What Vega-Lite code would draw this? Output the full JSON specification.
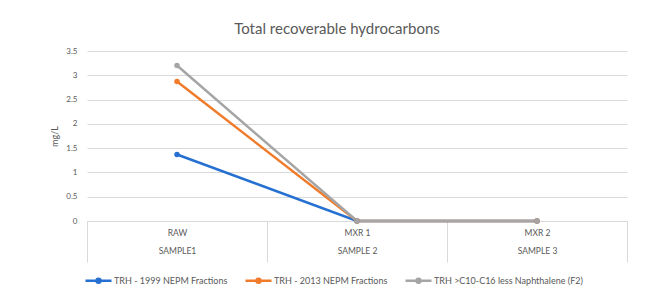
{
  "$schema": "https://vega.github.io/schema/vega-lite/v6.json",
  "autosize": {"type": "none"},
  "width": 540,
  "height": 170,
  "padding": {"left": 87, "top": 51, "right": 28, "bottom": 65},
  "background": "white",
  "title": {
    "text": "Total recoverable hydrocarbons",
    "font": "Lato",
    "fontSize": 15,
    "fontWeight": "normal",
    "color": "#595959",
    "anchor": "middle",
    "dx": -20,
    "offset": 10
  },
  "data": {
    "values": [
      {"cat": "RAW|SAMPLE1", "series": "TRH - 1999 NEPM Fractions", "value": 1.37},
      {"cat": "MXR 1|SAMPLE 2", "series": "TRH - 1999 NEPM Fractions", "value": 0},
      {"cat": "MXR 2|SAMPLE 3", "series": "TRH - 1999 NEPM Fractions", "value": 0},
      {"cat": "RAW|SAMPLE1", "series": "TRH - 2013 NEPM Fractions", "value": 2.87},
      {"cat": "MXR 1|SAMPLE 2", "series": "TRH - 2013 NEPM Fractions", "value": 0},
      {"cat": "MXR 2|SAMPLE 3", "series": "TRH - 2013 NEPM Fractions", "value": 0},
      {"cat": "RAW|SAMPLE1", "series": "TRH >C10-C16 less Naphthalene (F2)", "value": 3.2},
      {"cat": "MXR 1|SAMPLE 2", "series": "TRH >C10-C16 less Naphthalene (F2)", "value": 0},
      {"cat": "MXR 2|SAMPLE 3", "series": "TRH >C10-C16 less Naphthalene (F2)", "value": 0}
    ]
  },
  "mark": {"type": "line", "strokeWidth": 2.5, "point": {"filled": true, "size": 30}},
  "encoding": {
    "x": {
      "field": "cat",
      "type": "nominal",
      "sort": ["RAW|SAMPLE1", "MXR 1|SAMPLE 2", "MXR 2|SAMPLE 3"],
      "scale": {"type": "band", "paddingInner": 0, "paddingOuter": 0},
      "axis": {
        "title": null,
        "labelAngle": 0,
        "labelExpr": "isValid(datum.value) ? split(datum.value, '|') : ''",
        "labelFont": "Lato",
        "labelFontSize": 8.5,
        "labelColor": "#595959",
        "labelLineHeight": 18,
        "labelPadding": -34,
        "tickBand": "extent",
        "tickSize": 41,
        "tickColor": "#d9d9d9",
        "domainColor": "#d9d9d9",
        "grid": false
      }
    },
    "y": {
      "field": "value",
      "type": "quantitative",
      "scale": {"domain": [0, 3.5]},
      "axis": {
        "title": "mg/L",
        "titleFont": "Lato",
        "titleFontSize": 9,
        "titleFontWeight": "normal",
        "titleColor": "#595959",
        "titlePadding": 6,
        "values": [0, 0.5, 1, 1.5, 2, 2.5, 3, 3.5],
        "format": "~g",
        "labelFont": "Lato",
        "labelFontSize": 8,
        "labelColor": "#595959",
        "labelPadding": 10,
        "domain": false,
        "ticks": false,
        "gridColor": "#d9d9d9"
      }
    },
    "color": {
      "field": "series",
      "type": "nominal",
      "scale": {
        "domain": ["TRH - 1999 NEPM Fractions", "TRH - 2013 NEPM Fractions", "TRH >C10-C16 less Naphthalene (F2)"],
        "range": ["#2570D0", "#F07B2B", "#A5A5A5"]
      },
      "legend": {
        "title": null,
        "orient": "none",
        "direction": "horizontal",
        "legendX": -3,
        "legendY": 215,
        "symbolType": "M-1,0H1M-0.15,0A0.15,0.15,0,1,1,0.15,0A0.15,0.15,0,1,1,-0.15,0",
        "symbolSize": 676,
        "symbolStrokeWidth": 2.5,
        "labelFont": "Lato",
        "labelFontSize": 9,
        "labelColor": "#595959",
        "labelOffset": 1,
        "columnPadding": 12,
        "labelLimit": 300
      }
    },
    "order": {"field": "series"}
  },
  "config": {
    "view": {"stroke": null}
  }
}
